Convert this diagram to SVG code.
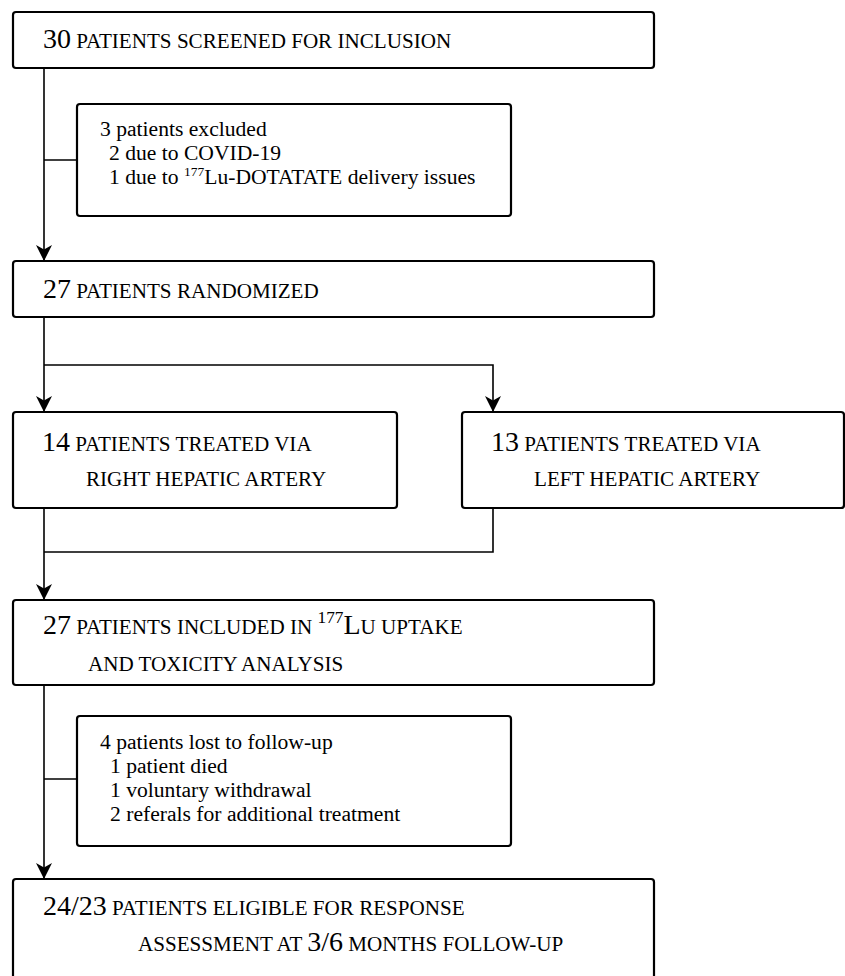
<svg xmlns="http://www.w3.org/2000/svg" width="845" height="976" viewBox="0 0 845 976">
<defs>
<style>
.box{fill:#fff;stroke:#000;stroke-width:2.2}
.conn{fill:none;stroke:#000;stroke-width:1.6}
text{font-family:"Liberation Serif","Times New Roman",serif;fill:#000}
.big{font-size:28px}
.sc{font-size:21.1px}
.norm{font-size:21.6px}
</style>
<marker id="arr" viewBox="0 0 16 17" refX="16" refY="8.5" markerWidth="16" markerHeight="17" markerUnits="userSpaceOnUse" orient="auto">
<path d="M0,0.5 L16,8.5 L0,16.5 L4.5,8.5 Z" fill="#000"/>
</marker>
</defs>
<rect width="845" height="976" fill="#fff"/>
<g id="connectors">
<path class="conn" d="M44,68 V261" marker-end="url(#arr)"/>
<path class="conn" d="M44,160 H77"/>
<path class="conn" d="M44,317 V412" marker-end="url(#arr)"/>
<path class="conn" d="M44,365 H493 V412" marker-end="url(#arr)"/>
<path class="conn" d="M44,508 V600" marker-end="url(#arr)"/>
<path class="conn" d="M493,508 V552 H44"/>
<path class="conn" d="M44,685 V879" marker-end="url(#arr)"/>
<path class="conn" d="M44,779 H77"/>
</g>
<g id="screened">
<rect class="box" x="13" y="12" width="641" height="56" rx="3"/>
<text x="43" y="48"><tspan class="big">30</tspan><tspan class="sc"> PATIENTS SCREENED FOR INCLUSION</tspan></text>
</g>
<g id="excluded">
<rect class="box" x="77" y="104" width="434" height="112" rx="3"/>
<text class="norm" x="100" y="136">3 patients excluded</text>
<text class="norm" x="109" y="160">2 due to COVID-19</text>
<text class="norm" x="109" y="184">1 due to <tspan font-size="13.5" y="176">177</tspan><tspan y="184">Lu-DOTATATE delivery issues</tspan></text>
</g>
<g id="randomized">
<rect class="box" x="13" y="261" width="641" height="56" rx="3"/>
<text x="43" y="298"><tspan class="big">27</tspan><tspan class="sc"> PATIENTS RANDOMIZED</tspan></text>
</g>
<g id="right">
<rect class="box" x="13" y="412" width="384" height="96" rx="3"/>
<text x="42" y="451"><tspan class="big">14</tspan><tspan class="sc"> PATIENTS TREATED VIA</tspan></text>
<text class="sc" x="86" y="486">RIGHT HEPATIC ARTERY</text>
</g>
<g id="left">
<rect class="box" x="462" y="412" width="382" height="96" rx="3"/>
<text x="491" y="451"><tspan class="big">13</tspan><tspan class="sc"> PATIENTS TREATED VIA</tspan></text>
<text class="sc" x="534" y="486">LEFT HEPATIC ARTERY</text>
</g>
<g id="included">
<rect class="box" x="13" y="600" width="641" height="85" rx="3"/>
<text x="43" y="634"><tspan class="big">27</tspan><tspan class="sc"> PATIENTS INCLUDED IN </tspan><tspan font-size="17.3" y="623">177</tspan><tspan class="big" y="634">L</tspan><tspan class="sc">U UPTAKE</tspan></text>
<text class="sc" x="88" y="671">AND TOXICITY ANALYSIS</text>
</g>
<g id="lost">
<rect class="box" x="77" y="716" width="434" height="130" rx="3"/>
<text class="norm" x="100" y="749">4 patients lost to follow-up</text>
<text class="norm" x="110" y="773">1 patient died</text>
<text class="norm" x="110" y="797">1 voluntary withdrawal</text>
<text class="norm" x="110" y="821">2 referals for additional treatment</text>
</g>
<g id="eligible">
<rect class="box" x="13" y="879" width="641" height="120" rx="3"/>
<text x="43" y="915"><tspan class="big">24/23</tspan><tspan class="sc"> PATIENTS ELIGIBLE FOR RESPONSE</tspan></text>
<text x="138" y="951"><tspan class="sc">ASSESSMENT AT </tspan><tspan class="big">3/6</tspan><tspan class="sc"> MONTHS FOLLOW-UP</tspan></text>
</g>
</svg>
